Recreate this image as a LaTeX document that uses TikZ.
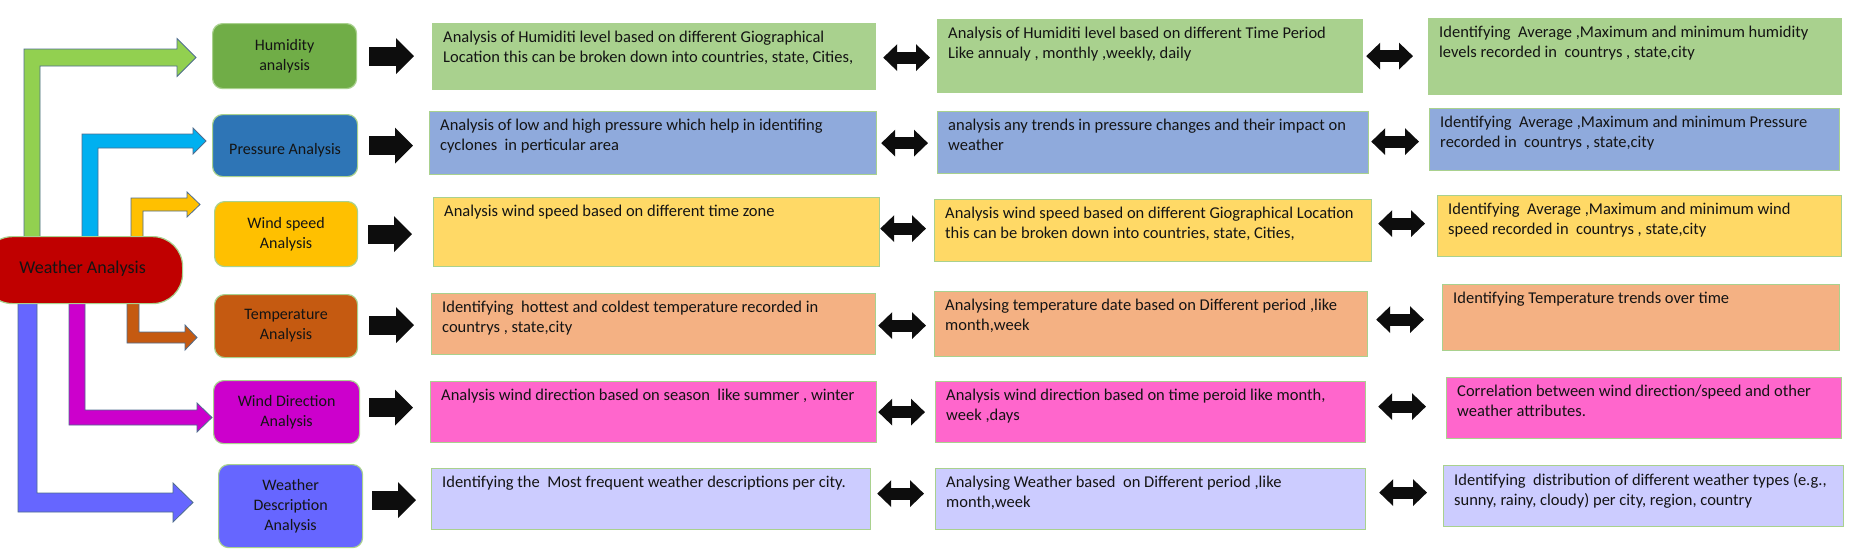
\documentclass[tikz,border=0pt]{standalone}
\usepackage{fontspec}
\setmainfont{Carlito}
\usetikzlibrary{arrows.meta}
\definecolor{bord}{HTML}{A9D18E}
\definecolor{humC}{HTML}{70AD47}\definecolor{humT}{HTML}{A9D18E}\definecolor{humA}{HTML}{92D050}
\definecolor{preC}{HTML}{2E75B6}\definecolor{preT}{HTML}{8FAADC}\definecolor{preA}{HTML}{00B0F0}
\definecolor{winC}{HTML}{FFC000}\definecolor{winT}{HTML}{FFD966}\definecolor{winA}{HTML}{FFC000}
\definecolor{temC}{HTML}{C55A11}\definecolor{temT}{HTML}{F4B183}\definecolor{temA}{HTML}{C55A11}
\definecolor{dirC}{HTML}{CC00CC}\definecolor{dirT}{HTML}{FF66CC}\definecolor{dirA}{HTML}{CC00CC}
\definecolor{desC}{HTML}{6666FF}\definecolor{desT}{HTML}{CCCCFF}\definecolor{desA}{HTML}{6666FF}
\definecolor{waC}{HTML}{C00000}
\definecolor{edgeC}{HTML}{4F6D8F}
\definecolor{blk}{HTML}{0D0D0D}
\definecolor{ink}{HTML}{141414}
\tikzset{
  cfont/.style={font=\fontsize{16}{20}\selectfont, text=ink},
  tfont/.style={font=\fontsize{16.5}{20}\selectfont, text=ink},
  cbox/.style={draw=bord, line width=1.2pt, rounded corners=10pt, align=center, inner sep=0pt, anchor=north west, cfont},
  tbox/.style={draw=bord, line width=1.2pt, anchor=north west, inner sep=0pt},
  tlabel/.style={anchor=north west, align=left, inner sep=0pt, xshift=11pt, yshift=-8pt, tfont},
  onearrow/.style={draw=blk, line width=19pt, -{Triangle[width=35pt,length=18pt]}},
  twoarrow/.style={draw=blk, line width=12pt, {Triangle[width=26pt,length=14pt]}-{Triangle[width=26pt,length=14pt]}},
  elbowarr/.style={draw=edgeC, line width=0.8pt, line join=miter},
}
\newcommand\mkcbox[7]{%
  \pgfmathsetmacro\bw{#4-#2}\pgfmathsetmacro\bh{#5-#3}%
  \node[cbox, fill=#6, minimum width=\bw pt, minimum height=\bh pt] (#1) at (#2,#3) {#7};}
\newcommand\mktbox[7]{%
  \pgfmathsetmacro\bw{#4-#2}\pgfmathsetmacro\bh{#5-#3}%
  \node[tbox, fill=#6, minimum width=\bw pt, minimum height=\bh pt,
        label={[tlabel]north west:{#7}}] (#1) at (#2,#3) {};}
\newcommand\upelbow[9]{%
  \pgfmathsetmacro\ym{(#5+#6)/2}%
  \draw[elbowarr, fill=#1] (#2,#4) -- (#2,#5) -- (#7,#5) -- (#7,\ym-#8) -- (#9,\ym)
     -- (#7,\ym+#8) -- (#7,#6) -- (#3,#6) -- (#3,#4) -- cycle;}
\newcommand\downelbow[9]{%
  \pgfmathsetmacro\ym{(#5+#6)/2}%
  \draw[elbowarr, fill=#1] (#2,#4) -- (#2,#6) -- (#7,#6) -- (#7,\ym+#8) -- (#9,\ym)
     -- (#7,\ym-#8) -- (#7,#5) -- (#3,#5) -- (#3,#4) -- cycle;}
\newcommand\onearr[5]{\draw[onearrow, shorten <=#3pt, shorten >=#4pt] ([yshift=#5pt]#1.east) -- ([yshift=#5pt]#1.east -| #2.west);}
\newcommand\twoarr[5]{\draw[twoarrow, shorten <=#3pt, shorten >=#4pt] ([yshift=#5pt]#1.east) -- ([yshift=#5pt]#1.east -| #2.west);}
\begin{document}
\begin{tikzpicture}[x=1pt,y=-1pt]
\useasboundingbox (0,0) rectangle (1857,555);
\fill[white] (0,0) rectangle (1857,555);

% elbow arrows from Weather Analysis
\upelbow{humA}{24}{40}{240}{49}{66}{177}{19}{196}
\upelbow{preA}{82}{98}{240}{134}{148}{193}{13}{206}
\upelbow{winA}{131}{143}{240}{198}{211}{187}{12.5}{200}
\downelbow{temA}{127}{139}{298}{332}{343}{185}{12.5}{197}
\downelbow{dirA}{69}{85}{298}{410}{425}{197}{14.5}{212}
\downelbow{desA}{18}{37}{298}{493}{512}{173}{19.5}{193}

\node[draw=bord, line width=1.2pt, fill=waC, rounded corners=30pt, minimum width=200pt,
      minimum height=67pt, anchor=north west, font=\fontsize{18}{20}\selectfont, text=ink, inner sep=0pt] (wa) at (-18,236)
      {\raisebox{6pt}{Weather Analysis}};

% centre boxes
\mkcbox{hum}{212}{23}{356}{88}{humC}{Humidity\\analysis}
\mkcbox{pre}{212}{114}{357}{176}{preC}{\mbox{}\\Pressure Analysis}
\mkcbox{win}{214}{201}{357}{266}{winC}{Wind speed\\Analysis}
\mkcbox{tem}{214}{294}{357}{357}{temC}{Temperature\\Analysis}
\mkcbox{dir}{213}{380}{359}{443}{dirC}{Wind Direction\\Analysis}
\mkcbox{des}{218}{464}{362}{547}{desC}{Weather\\Description\\Analysis}

% column 1
\mktbox{h1}{432}{23}{875}{89}{humT}{Analysis of Humiditi level based on different Giographical\\Location this can be broken down into countries, state, Cities,}
\mktbox{p1}{429}{111}{876}{174}{preT}{Analysis of low and high pressure which help in identifing\\cyclones~ in perticular area}
\mktbox{w1}{433}{197}{879}{266}{winT}{Analysis wind speed based on different time zone}
\mktbox{t1}{431}{293}{875}{354}{temT}{Identifying~ hottest and coldest temperature recorded in\\countrys , state,city}
\mktbox{d1}{430}{381}{876}{442}{dirT}{Analysis wind direction based on season~ like summer , winter}
\mktbox{e1}{431}{468}{870}{529}{desT}{Identifying the~ Most frequent weather descriptions per city.}

% column 2
\mktbox{h2}{937}{19}{1362}{92}{humT}{Analysis of Humiditi level based on different Time Period\\Like annualy , monthly ,weekly, daily}
\mktbox{p2}{937}{111}{1368}{173}{preT}{analysis any trends in pressure changes and their impact on\\weather}
\mktbox{w2}{934}{199}{1371}{261}{winT}{Analysis wind speed based on different Giographical Location\\this can be broken down into countries, state, Cities,}
\mktbox{t2}{934}{291}{1367}{356}{temT}{Analysing temperature date based on Different period ,like\\month,week}
\mktbox{d2}{935}{381}{1365}{442}{dirT}{Analysis wind direction based on time peroid like month,\\week ,days}
\mktbox{e2}{935}{468}{1365}{529}{desT}{Analysing Weather based~ on Different period ,like\\month,week}

% column 3
\mktbox{h3}{1428}{18}{1841}{94}{humT}{Identifying~ Average ,Maximum and minimum humidity\\levels recorded in~ countrys , state,city}
\mktbox{p3}{1429}{108}{1839}{170}{preT}{Identifying~ Average ,Maximum and minimum Pressure\\recorded in~ countrys , state,city}
\mktbox{w3}{1437}{195}{1841}{256}{winT}{Identifying~ Average ,Maximum and minimum wind\\speed recorded in~ countrys , state,city}
\mktbox{t3}{1442}{284}{1839}{350}{temT}{Identifying Temperature trends over time}
\mktbox{d3}{1446}{377}{1841}{438}{dirT}{Correlation between wind direction/speed and other\\weather attributes.}
\mktbox{e3}{1443}{465}{1843}{526}{desT}{Identifying~ distribution of different weather types (e.g.,\\sunny, rainy, cloudy) per city, region, country}

% single block arrows
\onearr{hum}{h1}{12}{18}{0}
\onearr{pre}{p1}{11}{16}{0}
\onearr{win}{w1}{10}{21}{0}
\onearr{tem}{t1}{11}{17}{1}
\onearr{dir}{d1}{9}{17}{4.5}
\onearr{des}{e1}{9}{15}{6}

% double arrows col1 -> col2
\twoarr{h1}{h2}{7}{7}{-1}
\twoarr{p1}{p2}{4}{9}{0}
\twoarr{w1}{w2}{0}{8}{3.5}
\twoarr{t1}{t2}{2}{8}{-1.5}
\twoarr{d1}{d2}{1}{10}{0}
\twoarr{e1}{e2}{6}{11}{5.5}

% double arrows col2 -> col3
\twoarr{h2}{h3}{3}{15}{0}
\twoarr{p2}{p3}{2}{10}{1}
\twoarr{w2}{w3}{6}{12}{7}
\twoarr{t2}{t3}{8}{18}{4.5}
\twoarr{d2}{d3}{12}{20}{5.5}
\twoarr{e2}{e3}{13}{16}{6.5}
\end{tikzpicture}
\end{document}
